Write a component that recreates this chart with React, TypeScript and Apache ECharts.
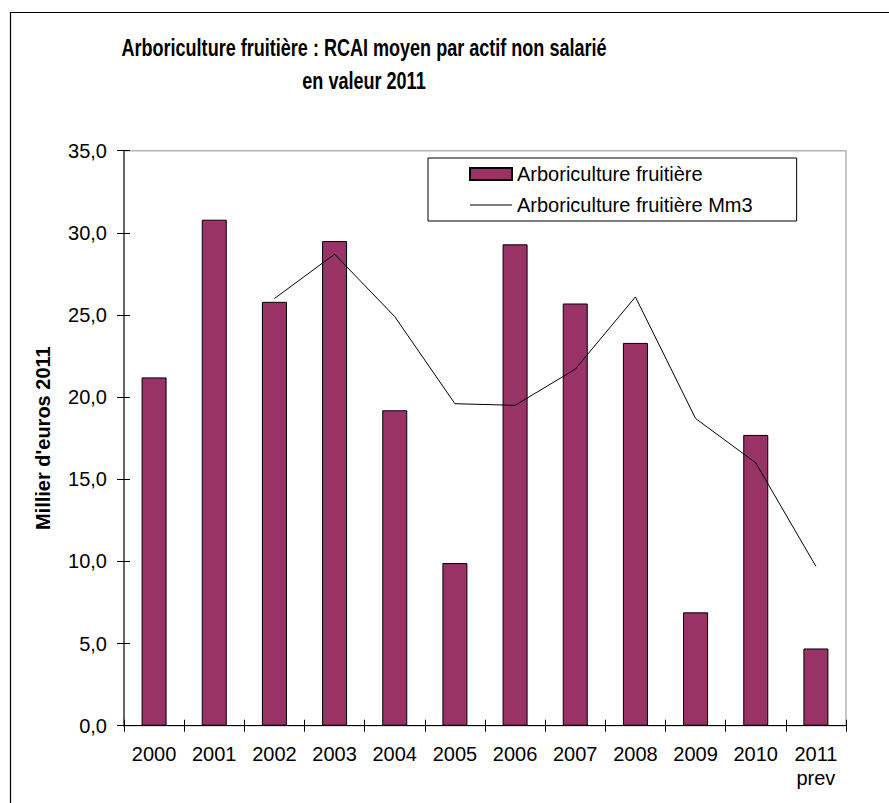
import React, { useEffect, useRef } from "react";
import * as echarts from "echarts";

const categories = ["2000", "2001", "2002", "2003", "2004", "2005", "2006", "2007", "2008", "2009", "2010", "2011\nprev"];
const barValues = [21.2, 30.8, 25.8, 29.5, 19.2, 9.9, 29.3, 25.7, 23.3, 6.9, 17.7, 4.7];
const lineValues = [null, null, 26.0, 28.7, 24.9, 19.6, 19.5, 21.7, 26.1, 18.7, 16.0, 9.7];
const barName = "Arboriculture fruitière";
const lineName = "Arboriculture fruitière Mm3";
const titleLines = ["Arboriculture fruitière : RCAI moyen par actif non salarié", "en valeur 2011"];
const yAxisName = "Millier d'euros 2011";

const FONT = "'Liberation Sans', Arial, sans-serif";

export default function App() {
  const ref = useRef<HTMLDivElement>(null);
  useEffect(() => {
    if (!ref.current) return;
    const chart = echarts.init(ref.current, null, { renderer: "svg" });
    const fmt = (v: number) => v.toFixed(1).replace(".", ",");
    const titleText = (text: string, y: number) => ({
      type: "text",
      x: 364,
      y,
      scaleX: 0.785,
      style: {
        text,
        font: `bold 23px ${FONT}`,
        fill: "#000",
        textAlign: "center",
        textVerticalAlign: "middle",
        align: "center",
        verticalAlign: "middle",
      },
    });
    chart.setOption({
      animation: false,
      backgroundColor: "#ffffff",
      textStyle: { fontFamily: FONT, color: "#000" },
      graphic: [
        {
          type: "rect",
          z: -10,
          shape: { x: 10.5, y: 12.5, width: 1000, height: 1000 },
          style: { fill: "none", stroke: "#000", lineWidth: 1.2 },
        },
        titleText(titleLines[0], 48),
        titleText(titleLines[1], 81),
      ],
      legend: {
        left: 428,
        top: 158,
        orient: "vertical",
        backgroundColor: "#fff",
        borderColor: "#000",
        borderWidth: 1,
        padding: [6, 44, 6, 41],
        itemWidth: 42,
        itemHeight: 12,
        itemGap: 11,
        textStyle: { fontSize: 20, color: "#000", fontFamily: FONT },
        data: [
          { name: barName, icon: "rect" },
          { name: lineName, icon: "path://M0,0L42,0L42,1L0,1Z", itemStyle: { color: "#000", borderWidth: 0 } },
        ],
      },
      grid: {
        left: 124,
        top: 150.7,
        right: 43,
        bottom: 77.3,
        show: true,
        borderColor: "#b4b4b4",
        borderWidth: 1.5,
      },
      xAxis: [
        {
          type: "category",
          data: categories,
          position: "bottom",
          boundaryGap: true,
          axisLine: { lineStyle: { color: "#000", width: 1 } },
          axisTick: { show: true, inside: false, length: 6, lineStyle: { color: "#000" } },
          axisLabel: { fontSize: 20, color: "#000", margin: 16, lineHeight: 24, interval: 0, fontFamily: FONT },
          splitLine: { show: false },
        },
        {
          type: "category",
          data: categories,
          position: "bottom",
          boundaryGap: true,
          axisLine: { show: false },
          axisTick: { show: true, inside: true, length: 6, lineStyle: { color: "#000" } },
          axisLabel: { show: false },
          splitLine: { show: false },
        },
      ],
      yAxis: [
        {
          type: "value",
          position: "left",
          min: 0,
          max: 35,
          interval: 5,
          name: yAxisName,
          nameLocation: "middle",
          nameGap: 71,
          nameRotate: 90,
          nameTextStyle: { fontSize: 20, fontWeight: "bold", color: "#000", fontFamily: FONT },
          axisLine: { show: true, lineStyle: { color: "#666", width: 2 } },
          axisTick: { show: true, inside: false, length: 7, lineStyle: { color: "#000" } },
          axisLabel: { fontSize: 20, color: "#000", margin: 17, formatter: fmt, fontFamily: FONT },
          splitLine: { show: false },
        },
        {
          type: "value",
          position: "left",
          min: 0,
          max: 35,
          interval: 5,
          axisLine: { show: false },
          axisTick: { show: true, inside: true, length: 6, lineStyle: { color: "#000" } },
          axisLabel: { show: false },
          splitLine: { show: false },
        },
      ],
      series: [
        {
          name: barName,
          type: "bar",
          data: barValues,
          barWidth: 25,
          xAxisIndex: 0,
          yAxisIndex: 0,
          itemStyle: { color: "#993366", borderColor: "#000", borderWidth: 1 },
        },
        {
          name: lineName,
          type: "line",
          data: lineValues,
          xAxisIndex: 0,
          yAxisIndex: 0,
          symbol: "none",
          showSymbol: false,
          connectNulls: false,
          lineStyle: { color: "#000", width: 1 },
          itemStyle: { color: "#000" },
          z: 5,
        },
      ],
    });
    return () => chart.dispose();
  }, []);
  return (
    <div
      ref={ref}
      style={{ position: "absolute", left: 0, top: 0, width: 889, height: 803 }}
    />
  );
}
